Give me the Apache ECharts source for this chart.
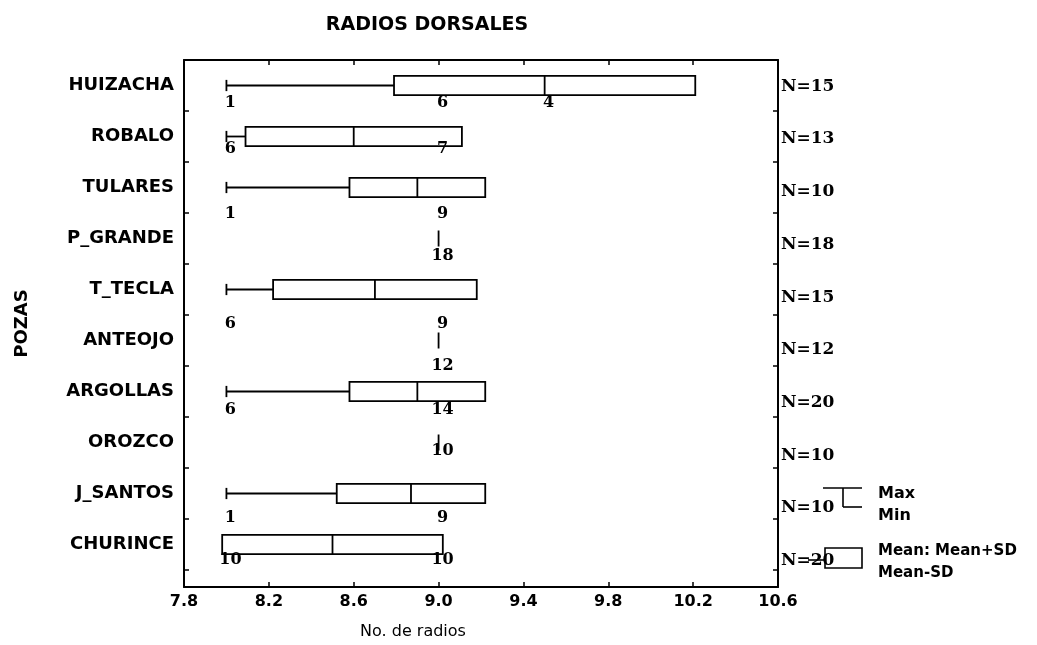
<!DOCTYPE html>
<html lang="es">
<head>
<meta charset="UTF-8">
<title>Radios dorsales</title>
<style>
  html,body{margin:0;background:#fff;}
  #main{width:1037px;height:645px;}
</style>
</head>
<body>
<div id="main"></div>
<script src="https://cdn.jsdelivr.net/npm/echarts@6/dist/echarts.min.js"></script>
<script>
// datos
const pozas = ['HUIZACHA','ROBALO','TULARES','P_GRANDE','T_TECLA','ANTEOJO','ARGOLLAS','OROZCO','J_SANTOS','CHURINCE'];
const nPozas = [15,13,10,18,15,12,20,10,10,20];
const minVals = [8,8,8,9,8,9,8,9,8,8];
const maxVals = [10,9,9,9,9,9,9,9,9,9];
const meanVals = [9.5,8.6,8.9,9,8.7,9,8.9,9,8.87,8.5];
const sdVals = [0.71,0.51,0.32,0,0.48,0,0.32,0,0.35,0.52];
// frecuencias escritas bajo cada caja: [valor, texto]
const freqLabels = [
  [[8,'1'],[9,'6'],[9.5,'4']],
  [[8,'6'],[9,'7']],
  [[8,'1'],[9,'9']],
  [[9,'18']],
  [[8,'6'],[9,'9']],
  [[9,'12']],
  [[8,'6'],[9,'14']],
  [[9,'10']],
  [[8,'1'],[9,'9']],
  [[8,'10'],[9,'10']]
];
const xTicks = [7.8,8.2,8.6,9.0,9.4,9.8,10.2,10.6];

// desplazamiento vertical de las frecuencias en cada fila (px)
const labelDy = [17,12,26,17,34,25,18,8,24,15];

const sans = 'DejaVu Sans';
const serif = 'DejaVu Serif';

const boxData = pozas.map((p, i) => [
  minVals[i], meanVals[i] - sdVals[i], meanVals[i], meanVals[i] + sdVals[i], maxVals[i], i
]);

const freqData = [];
freqLabels.forEach((row, i) => {
  row.forEach(([v, t]) => {
    freqData.push({name: t, value: [v, i], label: {offset: [4, labelDy[i]]}});
  });
});

function renderBox(params, api) {
  const row = api.value(5);
  const band = api.size([0, 1])[1];
  const half = band * 0.19;
  const cap = band * 0.11;
  const pm = api.coord([api.value(2), row]);
  const y = pm[1];
  const xMin = api.coord([api.value(0), row])[0];
  const xLo = api.coord([api.value(1), row])[0];
  const xHi = api.coord([api.value(3), row])[0];
  const xMax = api.coord([api.value(4), row])[0];
  const st = {stroke: '#000', lineWidth: 1.8, fill: 'none'};
  const kids = [];
  if (xHi - xLo < 1) {
    kids.push({type: 'line', shape: {x1: pm[0], y1: y - 8, x2: pm[0], y2: y + 8}, style: st});
  } else {
    kids.push({type: 'rect', shape: {x: xLo, y: y - half, width: xHi - xLo, height: half * 2}, style: st});
    kids.push({type: 'line', shape: {x1: pm[0], y1: y - half, x2: pm[0], y2: y + half}, style: st});
  }
  if (xMin < xLo - 0.5) {
    kids.push({type: 'line', shape: {x1: xMin, y1: y, x2: xLo, y2: y}, style: st});
    kids.push({type: 'line', shape: {x1: xMin, y1: y - cap, x2: xMin, y2: y + cap}, style: st});
  }
  if (xMax > xHi + 0.5) {
    kids.push({type: 'line', shape: {x1: xHi, y1: y, x2: xMax, y2: y}, style: st});
    kids.push({type: 'line', shape: {x1: xMax, y1: y - cap, x2: xMax, y2: y + cap}, style: st});
  }
  return {type: 'group', children: kids};
}

const chart = echarts.init(document.getElementById('main'));
const lineStyle = {color: '#000', width: 2};
const tickFmt = v => Number(v).toFixed(1);

const option = {
  backgroundColor: '#fff',
  animation: false,
  title: {
    text: 'RADIOS DORSALES',
    left: 422, top: 11, textAlign: 'center',
    textStyle: {fontFamily: sans, fontSize: 19, fontWeight: 'bold', color: '#000'}
  },
  grid: [
    {left: 184, right: 259, top: 60, bottom: 55},
    {left: 184, right: 259, top: 60, height: 510}
  ],
  xAxis: [
    {
      gridIndex: 0, type: 'value', position: 'bottom', min: 7.8, max: 10.6,
      axisLine: {lineStyle},
      axisTick: {inside: true, length: 5, lineStyle: {color: '#000', width: 1.5}, customValues: xTicks},
      axisLabel: {customValues: xTicks, formatter: tickFmt, color: '#000', fontFamily: sans, fontSize: 16, fontWeight: 'bold', margin: 7},
      splitLine: {show: false},
      name: 'No. de radios', nameLocation: 'middle', nameGap: 37,
      nameTextStyle: {fontFamily: sans, fontSize: 16, color: '#000', padding: [0, 136, 0, 0]}
    },
    {
      gridIndex: 0, type: 'value', position: 'top', min: 7.8, max: 10.6,
      axisLine: {lineStyle},
      axisTick: {inside: true, length: 5, lineStyle: {color: '#000', width: 1.5}, customValues: xTicks},
      axisLabel: {show: false}, splitLine: {show: false}
    },
    {
      gridIndex: 1, type: 'value', min: 7.8, max: 10.6, show: false
    }
  ],
  yAxis: [
    {
      gridIndex: 0, type: 'value', position: 'left', min: 0, max: 1,
      axisLine: {show: true, lineStyle},
      axisTick: {show: false}, axisLabel: {show: false}, splitLine: {show: false},
      name: 'POZAS', nameLocation: 'middle', nameRotate: 90, nameGap: 153,
      nameTextStyle: {fontFamily: sans, fontSize: 18, fontWeight: 'bold', color: '#000'}
    },
    {
      gridIndex: 0, type: 'category', position: 'right', inverse: true,
      data: nPozas.map(n => 'N=' + n),
      axisLine: {show: true, lineStyle},
      axisTick: {show: false},
      axisLabel: {color: '#000', fontFamily: serif, fontSize: 17, fontWeight: 'bold', margin: 3}
    },
    {
      gridIndex: 1, type: 'category', position: 'left', inverse: true, data: pozas,
      axisLine: {show: false},
      axisTick: {show: true, inside: true, length: 5, lineStyle: {color: '#000', width: 1.5}},
      axisLabel: {color: '#000', fontFamily: sans, fontSize: 18, fontWeight: 'bold', margin: 10}
    },
    {
      gridIndex: 1, type: 'category', position: 'right', inverse: true, data: pozas,
      axisLine: {show: false},
      axisTick: {show: true, inside: true, length: 5, lineStyle: {color: '#000', width: 1.5}},
      axisLabel: {show: false}
    }
  ],
  series: [
    {
      type: 'custom', xAxisIndex: 2, yAxisIndex: 2,
      renderItem: renderBox,
      encode: {x: [0, 1, 2, 3, 4], y: 5},
      data: boxData
    },
    {
      type: 'scatter', xAxisIndex: 2, yAxisIndex: 2,
      symbolSize: 0, itemStyle: {color: '#000', opacity: 1},
      label: {
        show: true, position: 'inside', formatter: p => p.name,
        color: '#000', opacity: 1, fontFamily: serif, fontSize: 16, fontWeight: 'bold'
      },
      data: freqData
    }
  ],
  graphic: [
    // leyenda
    {type: 'line', shape: {x1: 823, y1: 488, x2: 862, y2: 488}, style: {stroke: '#000', lineWidth: 1.6}},
    {type: 'line', shape: {x1: 843, y1: 488, x2: 843, y2: 507}, style: {stroke: '#000', lineWidth: 1.6}},
    {type: 'line', shape: {x1: 843, y1: 507, x2: 862, y2: 507}, style: {stroke: '#000', lineWidth: 1.6}},
    {type: 'rect', shape: {x: 825, y: 548, width: 37, height: 20}, style: {stroke: '#000', fill: 'none', lineWidth: 1.6}},
    {type: 'line', shape: {x1: 808, y1: 560, x2: 825, y2: 560}, style: {stroke: '#000', lineWidth: 1.6}},
    {type: 'text', left: 878, top: 486, style: {text: 'Max', fill: '#000', font: 'bold 16px "DejaVu Sans"'}},
    {type: 'text', left: 878, top: 508, style: {text: 'Min', fill: '#000', font: 'bold 16px "DejaVu Sans"'}},
    {type: 'text', left: 878, top: 544, style: {text: 'Mean: Mean+SD', fill: '#000', font: 'bold 15px "DejaVu Sans"'}},
    {type: 'text', left: 878, top: 566, style: {text: 'Mean-SD', fill: '#000', font: 'bold 15px "DejaVu Sans"'}}
  ]
};
chart.setOption(option);
</script>
</body>
</html>
